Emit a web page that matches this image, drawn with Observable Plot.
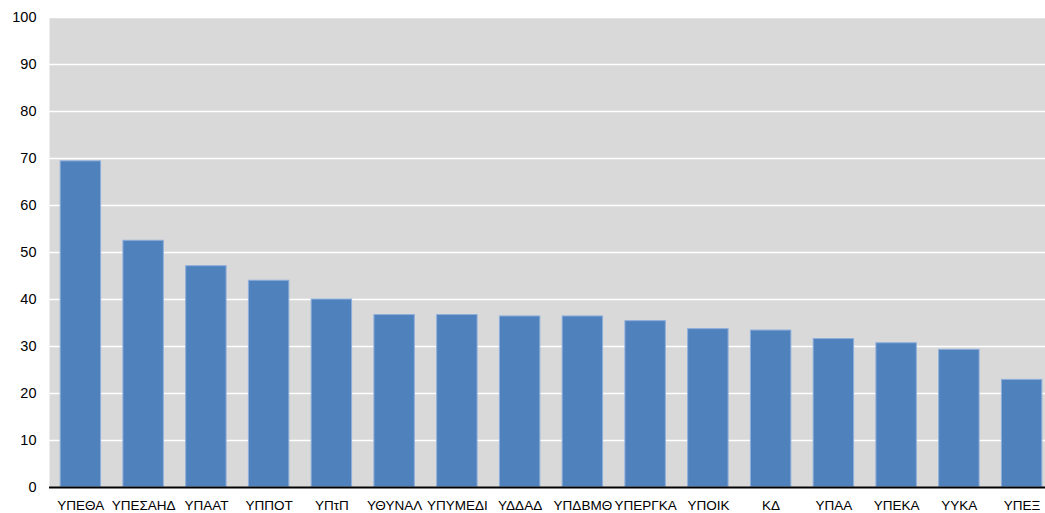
<!DOCTYPE html>
<html><head><meta charset="utf-8">
<script src="https://cdn.jsdelivr.net/npm/d3@7"></script>
<script src="https://cdn.jsdelivr.net/npm/@observablehq/plot@0.6"></script>
<style>
html,body{margin:0;padding:0;background:#fff;overflow:hidden;}
svg{display:block;max-width:none !important;}
</style>
</head><body>
<div id="chart"></div>
<script>
const categories = ["ΥΠΕΘΑ","ΥΠΕΣΑΗΔ","ΥΠΑΑΤ","ΥΠΠΟΤ","ΥΠτΠ","ΥΘΥΝΑΛ","ΥΠΥΜΕΔΙ","ΥΔΔΑΔ","ΥΠΔΒΜΘ","ΥΠΕΡΓΚΑ","ΥΠΟΙΚ","ΚΔ","ΥΠΑΑ","ΥΠΕΚΑ","ΥΥΚΑ","ΥΠΕΞ"];
const values = [69.5,52.6,47.2,44.1,40.1,36.8,36.8,36.5,36.5,35.5,33.8,33.5,31.7,30.8,29.4,23.0];
const yTicks = [0,10,20,30,40,50,60,70,80,90,100];

const data = categories.map((c,i)=>({cat:c, val:values[i]}));

const chart = Plot.plot({
  width: 1053,
  height: 513,
  marginTop: 17,
  marginBottom: 26,
  marginLeft: 49,
  marginRight: 0,
  style: {fontFamily: "'Liberation Sans', Arial, sans-serif", background: "#fff", overflow: "visible", maxWidth: "none"},
  x: {domain: categories, paddingInner: 0.34, paddingOuter: 0.17, round: false, label: null, tickSize: 0},
  y: {domain: [0,100], ticks: yTicks, label: null, tickSize: 0},
  marks: [
    Plot.frame({fill: "#d9d9d9", stroke: null}),
    Plot.gridY(yTicks, {stroke: "#ffffff", strokeOpacity: 1, strokeWidth: 1.5}),
    Plot.barY(data, {x: "cat", y: "val", fill: "#4f81bd", stroke: "#8eaedb", strokeWidth: 1, inset: 0.5}),
    Plot.ruleY([0], {stroke: "#000", strokeWidth: 2}),
    Plot.axisY({ticks: yTicks, tickSize: 0, tickPadding: 13, fontSize: 14.5, fill: "#000"}),
    Plot.axisX({tickSize: 0, tickPadding: 13, fontSize: 13.5, fill: "#000"})
  ]
});
document.getElementById("chart").appendChild(chart);
</script>
</body></html>
